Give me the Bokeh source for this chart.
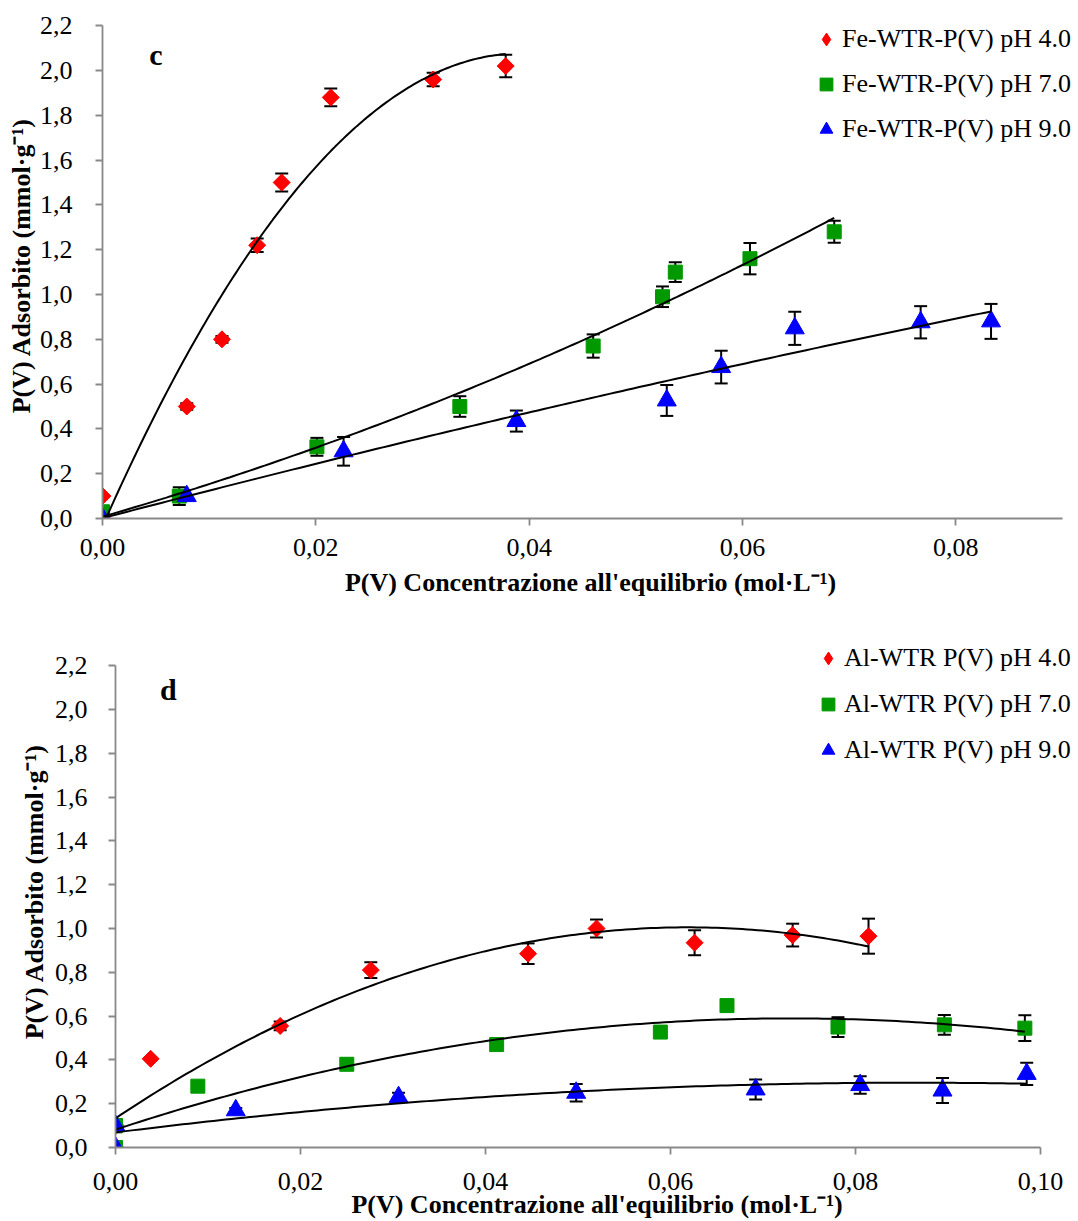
import numpy as np
from bokeh.plotting import figure
from bokeh.models import (ColumnDataSource, Range1d, FixedTicker, CustomJSTickFormatter,
                          Whisker, TeeHead, Legend, LegendItem, Label)
from bokeh.embed import file_html
from bokeh.resources import INLINE

# ---------------- data: panel c (Fe-WTR) ----------------
fe_names = ["Fe-WTR-P(V) pH 4.0", "Fe-WTR-P(V) pH 7.0", "Fe-WTR-P(V) pH 9.0"]
fe_ph4_x = [0.0, 0.0, 0.0079, 0.0112, 0.0145, 0.0168, 0.0214, 0.0310, 0.0378]
fe_ph4_y = [0.10, 0.00, 0.50, 0.80, 1.22, 1.50, 1.88, 1.96, 2.02]
fe_ph4_err = [0, 0, 0.015, 0.015, 0.03, 0.04, 0.04, 0.03, 0.05]

fe_ph7_x = [0.0, 0.0072, 0.0201, 0.0335, 0.0460, 0.0525, 0.0537, 0.0607, 0.0686]
fe_ph7_y = [0.03, 0.10, 0.32, 0.50, 0.77, 0.99, 1.10, 1.16, 1.28]
fe_ph7_err = [0, 0.04, 0.04, 0.046, 0.052, 0.046, 0.044, 0.07, 0.049]

fe_ph9_x = [0.0, 0.0079, 0.0226, 0.0388, 0.0529, 0.0580, 0.0649, 0.0767, 0.0833]
fe_ph9_y = [0.00, 0.10, 0.30, 0.435, 0.527, 0.676, 0.849, 0.876, 0.88]
fe_ph9_err = [0, 0, 0.064, 0.047, 0.069, 0.073, 0.074, 0.072, 0.078]

# ---------------- data: panel d (Al-WTR) ----------------
al_names = ["Al-WTR P(V) pH 4.0", "Al-WTR P(V) pH 7.0", "Al-WTR P(V) pH 9.0"]
al_ph4_x = [0.0, 0.0, 0.0038, 0.0178, 0.0276, 0.0446, 0.0520, 0.0626, 0.0732, 0.0814]
al_ph4_y = [0.10, 0.00, 0.405, 0.555, 0.81, 0.885, 1.00, 0.935, 0.97, 0.965]
al_ph4_err = [0.03, 0, 0, 0.02, 0.036, 0.047, 0.041, 0.057, 0.052, 0.08]

al_ph7_x = [0.0, 0.0, 0.0089, 0.0250, 0.0412, 0.0589, 0.0661, 0.0781, 0.0896, 0.0983]
al_ph7_y = [0.10, 0.00, 0.28, 0.38, 0.47, 0.527, 0.648, 0.55, 0.56, 0.545]
al_ph7_err = [0, 0, 0.023, 0.025, 0.022, 0, 0, 0.045, 0.045, 0.059]

al_ph9_x = [0.0, 0.0, 0.0130, 0.0306, 0.0498, 0.0692, 0.0805, 0.0894, 0.0985]
al_ph9_y = [0.10, 0.00, 0.17, 0.23, 0.25, 0.265, 0.285, 0.26, 0.336]
al_ph9_err = [0.02, 0, 0.01, 0.02, 0.04, 0.046, 0.04, 0.057, 0.051]

y_ticks = [0.0, 0.2, 0.4, 0.6, 0.8, 1.0, 1.2, 1.4, 1.6, 1.8, 2.0, 2.2]
fe_x_ticks = [0.0, 0.02, 0.04, 0.06, 0.08]
al_x_ticks = [0.0, 0.02, 0.04, 0.06, 0.08, 0.10]

x_title = "P(V) Concentrazione all'equilibrio (mol·L⁻¹)"
y_title = "P(V) Adsorbito (mmol·g⁻¹)"

FONT = "Liberation Serif"
GREY = "#898989"
RED, GREEN, BLUE = "#FF0000", "#009A00", "#0000FF"
MARKERS = [dict(marker="square", angle=np.pi / 4, size=12, color=RED, legend_marker="diamond"),
           dict(marker="square", angle=0.0, size=14, color=GREEN, legend_marker=None),
           dict(marker="triangle", angle=0.0, size=19, color=BLUE, legend_marker=None)]


def make_panel(letter, letter_xy, series, names, x_axis_end, x_view_end, y_view_end, x_ticks,
               fig_h, borders, y_lab_standoff, y_title_standoff, x_lab_standoff,
               x_title_standoff, legend_loc, legend_row):
    left, right, top, bottom = borders
    p = figure(width=1078, height=fig_h, x_range=Range1d(0, x_view_end),
               y_range=Range1d(0, y_view_end),
               output_backend="svg", toolbar_location=None,
               min_border_left=left, min_border_right=right,
               min_border_top=top, min_border_bottom=bottom)
    p.outline_line_color = None
    p.xgrid.visible = False
    p.ygrid.visible = False
    p.background_fill_color = "white"
    p.border_fill_color = "white"

    for ax in (p.xaxis[0], p.yaxis[0]):
        ax.axis_line_color = GREY
        ax.axis_line_width = 1.8
        ax.major_tick_line_color = GREY
        ax.major_tick_line_width = 1.8
        ax.major_tick_out = 7
        ax.major_tick_in = 0
        ax.minor_tick_line_color = None
        ax.major_label_text_font = FONT
        ax.major_label_text_font_size = "26px"
        ax.major_label_text_color = "black"
        ax.axis_label_text_font = FONT
        ax.axis_label_text_font_size = "26px"
        ax.axis_label_text_font_style = "bold"
        ax.axis_label_text_color = "black"

    p.xaxis.bounds = (0, x_axis_end)
    p.yaxis.bounds = (0, y_ticks[-1])
    p.xaxis.ticker = FixedTicker(ticks=x_ticks)
    p.yaxis.ticker = FixedTicker(ticks=y_ticks)
    p.xaxis.formatter = CustomJSTickFormatter(code="return tick.toFixed(2).replace('.', ',');")
    p.yaxis.formatter = CustomJSTickFormatter(code="return tick.toFixed(1).replace('.', ',');")
    p.xaxis.axis_label = x_title
    p.yaxis.axis_label = y_title
    p.yaxis.major_label_standoff = y_lab_standoff
    p.yaxis.axis_label_standoff = y_title_standoff
    p.xaxis.major_label_standoff = x_lab_standoff
    p.xaxis.axis_label_standoff = x_title_standoff

    items = []
    for (xs, ys, errs), name, mk in zip(series, names, MARKERS):
        # error bars (only where visible)
        bx = [x for x, e in zip(xs, errs) if e > 0]
        by = [y for y, e in zip(ys, errs) if e > 0]
        be = [e for e in errs if e > 0]
        wsrc = ColumnDataSource(dict(base=bx, lower=[y - e for y, e in zip(by, be)],
                                     upper=[y + e for y, e in zip(by, be)]))
        w = Whisker(source=wsrc, base="base", lower="lower", upper="upper", dimension="height",
                    line_color="black", line_width=2,
                    upper_head=TeeHead(size=13, line_color="black", line_width=2),
                    lower_head=TeeHead(size=13, line_color="black", line_width=2))
        p.add_layout(w)
        src = ColumnDataSource(dict(x=xs, y=ys))
        r_leg = None
        if mk["legend_marker"]:
            # a smaller upright diamond drawn beneath the rotated squares (fully covered by
            # them); it only supplies the legend swatch shape
            r_leg = p.scatter("x", "y", source=src, marker=mk["legend_marker"],
                              fill_color=mk["color"], line_color=mk["color"], size=10)
        r = p.scatter("x", "y", source=src, marker=mk["marker"], angle=mk["angle"],
                      size=mk["size"], fill_color=mk["color"], line_color=mk["color"], line_width=1)
        items.append(LegendItem(label=name, renderers=[r_leg if r_leg is not None else r]))

    # polynomial (2nd order) trend lines, fitted to each series
    for xs, ys, _ in series:
        coef = np.polyfit(xs, ys, 2)
        fx = np.linspace(0, max(xs), 150)
        p.line(fx, np.polyval(coef, fx), line_color="black", line_width=2)

    legend = Legend(items=items, location=legend_loc, orientation="vertical",
                    background_fill_alpha=0, border_line_color=None, padding=0, margin=0,
                    spacing=0, label_height=legend_row, glyph_height=40, glyph_width=32,
                    label_standoff=0, label_text_font=FONT, label_text_font_size="26px",
                    label_text_color="black")
    p.add_layout(legend)

    p.add_layout(Label(x=letter_xy[0], y=letter_xy[1], text=letter, text_font=FONT,
                       text_font_style="bold", text_font_size="30px", text_align="center",
                       text_baseline="middle", text_color="black"))
    return p


p1 = make_panel("c", (0.0050, 2.07),
                [(fe_ph4_x, fe_ph4_y, fe_ph4_err), (fe_ph7_x, fe_ph7_y, fe_ph7_err),
                 (fe_ph9_x, fe_ph9_y, fe_ph9_err)],
                fe_names, 0.09, 0.0915, 2.259, fe_x_ticks, 610, (102, 0, 12, 92),
                23, 1, 13, 9, (708, 367), 45)

p2 = make_panel("d", (0.0057, 2.09),
                [(al_ph4_x, al_ph4_y, al_ph4_err), (al_ph7_x, al_ph7_y, al_ph7_err),
                 (al_ph9_x, al_ph9_y, al_ph9_err)],
                al_names, 0.10, 0.1041, 2.338, al_x_ticks, 611, (115, 0, 25, 74),
                21, 3, 18, -3, (697, 374), 46)

open("out.html", "w").write(file_html([p1, p2], INLINE))
